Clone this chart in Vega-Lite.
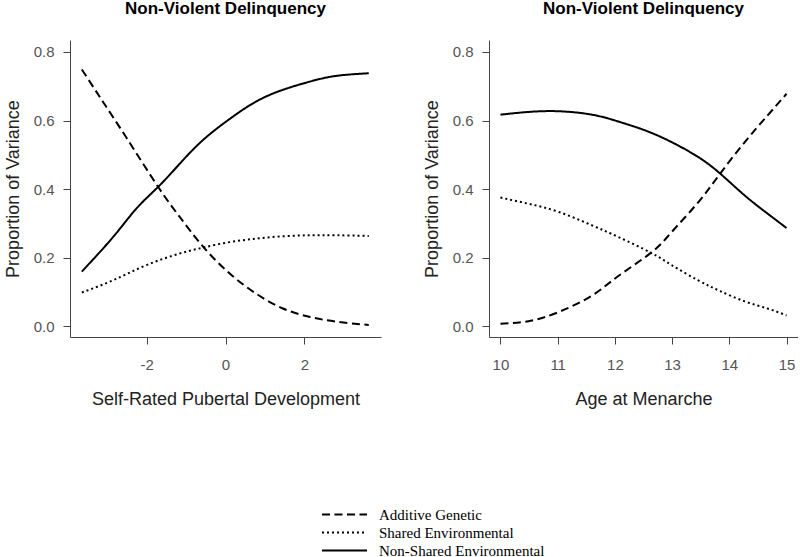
{
  "$schema": "https://vega.github.io/schema/vega-lite/v6.json",
  "background": "white",
  "padding": {"left": 4, "top": 0, "right": 0, "bottom": 0},
  "spacing": 42,
  "config": {
    "view": {"stroke": null},
    "font": "Liberation Sans",
    "axis": {
      "grid": false,
      "domainColor": "#444",
      "domainWidth": 1,
      "tickColor": "#444",
      "tickSize": 7,
      "labelColor": "#555",
      "labelFontSize": 15,
      "labelFont": "Liberation Sans",
      "titleFont": "Liberation Sans",
      "titleFontSize": 18,
      "titleFontWeight": "normal",
      "titleColor": "#222"
    },
    "axisX": {"labelPadding": 13, "titlePadding": 18},
    "axisY": {"labelPadding": 9, "titlePadding": 11},
    "title": {"fontSize": 17, "fontWeight": "bold", "color": "black", "font": "Liberation Sans", "offset": 22}
  },
  "datasets": {
    "pubertal": [
      {"x": -3.64, "component": "Additive Genetic", "value": 0.749},
      {"x": -3.09, "component": "Additive Genetic", "value": 0.652},
      {"x": -2.50, "component": "Additive Genetic", "value": 0.548},
      {"x": -1.70, "component": "Additive Genetic", "value": 0.405},
      {"x": -1.15, "component": "Additive Genetic", "value": 0.317},
      {"x": -0.57, "component": "Additive Genetic", "value": 0.232},
      {"x": 0.10, "component": "Additive Genetic", "value": 0.154},
      {"x": 0.77, "component": "Additive Genetic", "value": 0.095},
      {"x": 1.44, "component": "Additive Genetic", "value": 0.052},
      {"x": 2.12, "component": "Additive Genetic", "value": 0.027},
      {"x": 2.79, "component": "Additive Genetic", "value": 0.013},
      {"x": 3.63, "component": "Additive Genetic", "value": 0.003},
      {"x": -3.64, "component": "Shared Environmental", "value": 0.098},
      {"x": -2.84, "component": "Shared Environmental", "value": 0.134},
      {"x": -2.00, "component": "Shared Environmental", "value": 0.178},
      {"x": -1.15, "component": "Shared Environmental", "value": 0.212},
      {"x": -0.57, "component": "Shared Environmental", "value": 0.229},
      {"x": 0.10, "component": "Shared Environmental", "value": 0.245},
      {"x": 0.77, "component": "Shared Environmental", "value": 0.255},
      {"x": 1.44, "component": "Shared Environmental", "value": 0.262},
      {"x": 2.12, "component": "Shared Environmental", "value": 0.265},
      {"x": 2.79, "component": "Shared Environmental", "value": 0.265},
      {"x": 3.63, "component": "Shared Environmental", "value": 0.263},
      {"x": -3.64, "component": "Non-Shared Environmental", "value": 0.159},
      {"x": -2.84, "component": "Non-Shared Environmental", "value": 0.261},
      {"x": -2.25, "component": "Non-Shared Environmental", "value": 0.344},
      {"x": -1.70, "component": "Non-Shared Environmental", "value": 0.407},
      {"x": -1.15, "component": "Non-Shared Environmental", "value": 0.475},
      {"x": -0.57, "component": "Non-Shared Environmental", "value": 0.543},
      {"x": 0.10, "component": "Non-Shared Environmental", "value": 0.604},
      {"x": 0.77, "component": "Non-Shared Environmental", "value": 0.655},
      {"x": 1.44, "component": "Non-Shared Environmental", "value": 0.689},
      {"x": 2.12, "component": "Non-Shared Environmental", "value": 0.713},
      {"x": 2.79, "component": "Non-Shared Environmental", "value": 0.730},
      {"x": 3.63, "component": "Non-Shared Environmental", "value": 0.738}
    ],
    "menarche": [
      {"x": 10.0, "component": "Additive Genetic", "value": 0.007},
      {"x": 10.49, "component": "Additive Genetic", "value": 0.014},
      {"x": 11.02, "component": "Additive Genetic", "value": 0.041},
      {"x": 11.6, "component": "Additive Genetic", "value": 0.089},
      {"x": 12.06, "component": "Additive Genetic", "value": 0.146},
      {"x": 12.64, "component": "Additive Genetic", "value": 0.215},
      {"x": 12.99, "component": "Additive Genetic", "value": 0.274},
      {"x": 13.46, "component": "Additive Genetic", "value": 0.362},
      {"x": 13.84, "component": "Additive Genetic", "value": 0.445},
      {"x": 14.27, "component": "Additive Genetic", "value": 0.537},
      {"x": 14.67, "component": "Additive Genetic", "value": 0.615},
      {"x": 15.0, "component": "Additive Genetic", "value": 0.678},
      {"x": 10.0, "component": "Shared Environmental", "value": 0.375},
      {"x": 10.49, "component": "Shared Environmental", "value": 0.357},
      {"x": 11.02, "component": "Shared Environmental", "value": 0.333},
      {"x": 11.6, "component": "Shared Environmental", "value": 0.294},
      {"x": 12.06, "component": "Shared Environmental", "value": 0.260},
      {"x": 12.64, "component": "Shared Environmental", "value": 0.213},
      {"x": 12.99, "component": "Shared Environmental", "value": 0.178},
      {"x": 13.46, "component": "Shared Environmental", "value": 0.133},
      {"x": 13.84, "component": "Shared Environmental", "value": 0.102},
      {"x": 14.27, "component": "Shared Environmental", "value": 0.072},
      {"x": 14.67, "component": "Shared Environmental", "value": 0.051},
      {"x": 15.0, "component": "Shared Environmental", "value": 0.031},
      {"x": 10.0, "component": "Non-Shared Environmental", "value": 0.617},
      {"x": 10.49, "component": "Non-Shared Environmental", "value": 0.625},
      {"x": 11.02, "component": "Non-Shared Environmental", "value": 0.627},
      {"x": 11.6, "component": "Non-Shared Environmental", "value": 0.617},
      {"x": 12.06, "component": "Non-Shared Environmental", "value": 0.597},
      {"x": 12.53, "component": "Non-Shared Environmental", "value": 0.571},
      {"x": 12.99, "component": "Non-Shared Environmental", "value": 0.537},
      {"x": 13.46, "component": "Non-Shared Environmental", "value": 0.493},
      {"x": 13.84, "component": "Non-Shared Environmental", "value": 0.445},
      {"x": 14.27, "component": "Non-Shared Environmental", "value": 0.381},
      {"x": 14.67, "component": "Non-Shared Environmental", "value": 0.328},
      {"x": 15.0, "component": "Non-Shared Environmental", "value": 0.286}
    ]
  },
  "resolve": {"scale": {"strokeDash": "shared", "x": "independent", "y": "independent"}},
  "hconcat": [
    {
      "title": {"text": "Non-Violent Delinquency"},
      "width": 311,
      "height": 297,
      "data": {"name": "pubertal"},
      "mark": {"type": "line", "color": "black", "strokeWidth": 2, "interpolate": "natural"},
      "encoding": {
        "x": {"field": "x", "type": "quantitative", "title": "Self-Rated Pubertal Development",
              "scale": {"domain": [-3.94, 3.94], "nice": false, "zero": false},
              "axis": {"values": [-2, 0, 2], "labelExpr": "datum.value < 0 ? '-' + abs(datum.value) : '' + datum.value"}},
        "y": {"field": "value", "type": "quantitative", "title": "Proportion of Variance",
              "scale": {"domain": [-0.032, 0.835], "nice": false, "zero": false},
              "axis": {"values": [0, 0.2, 0.4, 0.6, 0.8], "format": ".1f"}},
        "strokeDash": {"field": "component", "type": "nominal",
          "scale": {"domain": ["Additive Genetic", "Shared Environmental", "Non-Shared Environmental"],
                    "range": [[8, 4.5], [2, 3], [1, 0]]},
          "legend": {"title": null, "orient": "none", "legendX": 266, "legendY": 466,
                     "symbolType": "M-3,0H3", "symbolSize": 225, "symbolStrokeWidth": 2,
                     "symbolStrokeColor": "black", "labelFont": "Liberation Serif",
                     "labelFontSize": 15, "labelColor": "black", "labelOffset": 26,
                     "labelLimit": 400, "rowPadding": 1, "padding": 0}}
      }
    },
    {
      "title": {"text": "Non-Violent Delinquency"},
      "width": 309,
      "height": 297,
      "data": {"name": "menarche"},
      "mark": {"type": "line", "color": "black", "strokeWidth": 2, "interpolate": "natural"},
      "encoding": {
        "x": {"field": "x", "type": "quantitative", "title": "Age at Menarche",
              "scale": {"domain": [9.8, 15.2], "nice": false, "zero": false},
              "axis": {"values": [10, 11, 12, 13, 14, 15]}},
        "y": {"field": "value", "type": "quantitative", "title": "Proportion of Variance",
              "scale": {"domain": [-0.032, 0.835], "nice": false, "zero": false},
              "axis": {"values": [0, 0.2, 0.4, 0.6, 0.8], "format": ".1f"}},
        "strokeDash": {"field": "component", "type": "nominal"}
      }
    }
  ]
}
